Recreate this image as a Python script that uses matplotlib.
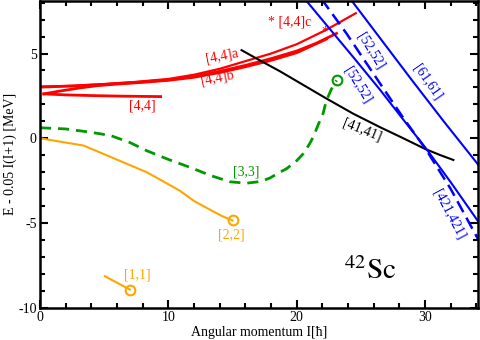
import matplotlib
matplotlib.use('Agg')
import matplotlib.pyplot as plt
from matplotlib.ticker import MultipleLocator

plt.rcParams['font.family'] = ['Liberation Serif', 'DejaVu Serif']
plt.rcParams['mathtext.fontset'] = 'stix'
plt.rcParams['axes.unicode_minus'] = False

# band [1,1]
i11 = [5.05, 7.0]
e11 = [-8.14, -8.93]
# band [2,2]
i22 = [0, 3.4, 8.3, 9.5, 10.9, 12.0, 13.2, 14.2, 15.0]
e22 = [0, -0.43, -2.0, -2.5, -3.1, -3.7, -4.2, -4.6, -4.85]
# band [3,3]
i33 = [0, 2, 4, 5.5, 7, 8.3, 10, 11.7, 13.3, 14.8, 16.1, 17.2, 17.9, 18.7,
       19.2, 20.0, 20.5, 21.0, 21.3, 21.7, 22.05, 22.3, 22.7, 23.1]
e33 = [0.62, 0.55, 0.35, 0.16, -0.25, -0.73, -1.25, -1.72, -2.2, -2.57, -2.65,
       -2.55, -2.35, -2.0, -1.8, -1.32, -0.92, -0.33, 0.1, 0.85, 1.45, 2.2, 2.9, 3.42]
# bands [4,4], [4,4]a, [4,4]b, [4,4]c
i44 = [0.3, 2, 4, 6, 8, 9.4]
e44 = [2.62, 2.56, 2.52, 2.49, 2.47, 2.46]
i44a = [0, 2.5, 5, 7.5, 10, 12, 14, 16, 18, 20, 21.5, 23.1]
e44a = [3.02, 3.08, 3.18, 3.3, 3.45, 3.65, 3.95, 4.3, 4.7, 5.15, 5.6, 6.19]
i44b = [0.3, 1.5, 3, 4.4, 6, 8, 10, 12, 14, 16, 18, 20, 22.3]
e44b = [2.62, 2.78, 2.96, 3.1, 3.2, 3.3, 3.42, 3.6, 3.88, 4.22, 4.6, 5.05, 5.85]
i44c = [0, 2.5, 5, 7.5, 10, 12, 14, 16, 18, 20, 22.3, 24.6]
e44c = [3.05, 3.1, 3.2, 3.33, 3.5, 3.75, 4.1, 4.55, 5.0, 5.55, 6.4, 7.38]
# band [41,41]
i41 = [15.7, 17, 18.7, 20.5, 22.3, 24.4, 26.5, 28.3, 30, 31.2, 32.2]
e41 = [5.2, 4.65, 3.95, 3.15, 2.35, 1.45, 0.65, 0.0, -0.63, -1.0, -1.28]
# bands [52,52] (solid) and [52,52]/[421,421] (dashed)
i52 = [20.6, 22.5, 24.5, 26.5, 28.3, 30.1, 32, 34.2]
e52 = [8.25, 6.52, 4.7, 2.85, 1.1, -0.63, -2.6, -4.98]
i52d = [21.9, 23.87, 26.5, 28.3, 30.1, 32, 34.2]
e52d = [8.25, 6.19, 3.22, 1.2, -0.7, -3.0, -6.06]
# band [61,61]
i61 = [24.15, 26.5, 29, 31.5, 34.2]
e61 = [8.25, 5.9, 3.4, 0.95, -1.62]

red = '#ff0000'
orange = '#ffa500'
green = '#009900'
blue = '#0000ff'

fig = plt.figure(figsize=(4.8, 3.4), dpi=100)
ax = fig.add_axes([0.0833, 0.095, 0.912, 0.902])

ax.plot(i11, e11, color=orange, lw=1.5)
ax.plot(i11[-1:], e11[-1:], 'o', mfc='none', mec=orange, ms=7, mew=1.5)
ax.plot(i22, e22, color=orange, lw=1.5)
ax.plot(i22[-1:], e22[-1:], 'o', mfc='none', mec=orange, ms=7, mew=1.5)
ax.plot(i33, e33, color=green, lw=2, ls=(0, (4, 2.5)))
ax.plot(i33[-1:], e33[-1:], 'o', mfc='none', mec=green, ms=7, mew=1.5)

ax.plot(i44, e44, color=red, lw=2)
ax.plot(i44a, e44a, color=red, lw=2)
ax.plot(i44b, e44b, color=red, lw=2)
ax.plot(i44c, e44c, color=red, lw=1.6)

ax.plot(i41, e41, color='black', lw=1.5)
ax.plot(i52, e52, color=blue, lw=1.5)
ax.plot(i52d, e52d, color=blue, lw=1.8, ls=(0, (5, 2.5)))
ax.plot(i61, e61, color=blue, lw=1.5)

fs = 10
ax.text(8.0, 1.93, '[4,4]', color=red, fontsize=fs, ha='center', va='center')
ax.text(14.2, 4.85, '[4,4]a', color=red, fontsize=fs, ha='center', va='center',
        rotation=11, rotation_mode='anchor')
ax.text(13.85, 3.54, '[4,4]b', color=red, fontsize=fs, ha='center', va='center',
        rotation=11, rotation_mode='anchor')
ax.text(19.45, 6.86, '* [4,4]c', color=red, fontsize=fs, ha='center', va='center')
ax.text(22.2, 6.25, '*', color=red, fontsize=fs, ha='center', va='center')
ax.text(25.8, 5.15, '[52,52]', color=blue, fontsize=fs, ha='center', va='center',
        rotation=-58, rotation_mode='anchor')
ax.text(24.75, 3.15, '[52,52]', color=blue, fontsize=fs, ha='center', va='center',
        rotation=-58, rotation_mode='anchor')
ax.text(30.2, 3.3, '[61,61]', color=blue, fontsize=fs, ha='center', va='center',
        rotation=-55, rotation_mode='anchor')
ax.text(31.9, -4.48, '[421,421]', color=blue, fontsize=fs, ha='center', va='center',
        rotation=-62, rotation_mode='anchor')
ax.text(25.1, 0.46, '[41,41]', color='black', fontsize=fs, ha='center', va='center',
        rotation=-22, rotation_mode='anchor')
ax.text(16.1, -2.0, '[3,3]', color=green, fontsize=fs, ha='center', va='center')
ax.text(14.9, -5.7, '[2,2]', color=orange, fontsize=fs, ha='center', va='center')
ax.text(7.6, -8.08, '[1,1]', color=orange, fontsize=fs, ha='center', va='center')
ax.text(25.7, -7.85, r'$^{42}\mathrm{Sc}$', fontsize=21, ha='center', va='center')

ax.set_xlim(0, 34.1)
ax.set_ylim(-10, 8.1)
ax.xaxis.set_major_locator(MultipleLocator(10))
ax.xaxis.set_minor_locator(MultipleLocator(2))
ax.yaxis.set_major_locator(MultipleLocator(5))
ax.yaxis.set_minor_locator(MultipleLocator(1))
ax.tick_params(which='both', direction='in', top=True, right=True, width=1.5,
               labelsize=10)
ax.tick_params(which='major', length=6, pad=2.5)
ax.tick_params(which='minor', length=3.5)
for s in ax.spines.values():
    s.set_linewidth(1.8)

ax.set_xlabel('Angular momentum I[ħ]', fontsize=10, labelpad=1)
ax.set_ylabel('E - 0.05 I(I+1) [MeV]', fontsize=10, labelpad=1)

fig.savefig('out.png', dpi=100)
